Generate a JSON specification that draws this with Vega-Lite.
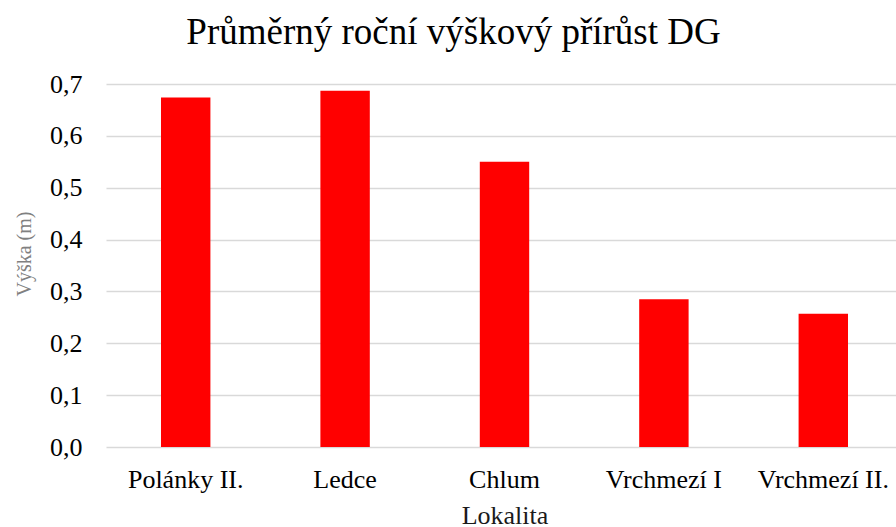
{
  "$schema": "https://vega.github.io/schema/vega-lite/v6.json",
  "autosize": {"type": "none"},
  "padding": {"left": 106, "top": 84, "right": 0, "bottom": 80},
  "width": 797,
  "height": 363,
  "background": "white",
  "title": {
    "text": "Průměrný roční výškový přírůst DG",
    "font": "Liberation Serif",
    "fontSize": 37,
    "fontWeight": "normal",
    "color": "#000000",
    "anchor": "middle",
    "baseline": "alphabetic",
    "offset": -10,
    "dx": -51
  },
  "data": {
    "values": [
      {"Lokalita": "Polánky II.", "Vyska": 0.674},
      {"Lokalita": "Ledce", "Vyska": 0.687},
      {"Lokalita": "Chlum", "Vyska": 0.550},
      {"Lokalita": "Vrchmezí I", "Vyska": 0.285},
      {"Lokalita": "Vrchmezí II.", "Vyska": 0.257}
    ]
  },
  "mark": {"type": "bar", "color": "#ff0000"},
  "encoding": {
    "x": {
      "field": "Lokalita",
      "type": "nominal",
      "sort": null,
      "scale": {"paddingInner": 0.69, "paddingOuter": 0.345},
      "axis": {
        "title": "Lokalita",
        "labelAngle": 0,
        "labelFont": "Liberation Serif",
        "labelFontSize": 26,
        "labelColor": "#000000",
        "labelBaseline": "alphabetic",
        "labelPadding": 40,
        "ticks": false,
        "domain": false,
        "grid": false,
        "titleFont": "Liberation Serif",
        "titleFontSize": 26,
        "titleFontWeight": "normal",
        "titleColor": "#1a1a1a",
        "titleBaseline": "alphabetic",
        "titleY": 76
      }
    },
    "y": {
      "field": "Vyska",
      "type": "quantitative",
      "scale": {"domain": [0, 0.7], "nice": false},
      "axis": {
        "title": "Výška (m)",
        "values": [0, 0.1, 0.2, 0.3, 0.4, 0.5, 0.6, 0.7],
        "labelExpr": "replace(format(datum.value, '.1f'), '.', ',')",
        "labelFont": "Liberation Serif",
        "labelFontSize": 26,
        "labelColor": "#000000",
        "labelPadding": 24,
        "ticks": false,
        "domain": false,
        "grid": true,
        "gridColor": "#d9d9d9",
        "gridWidth": 1.5,
        "titleFont": "Liberation Serif",
        "titleFontSize": 20,
        "titleFontWeight": "normal",
        "titleColor": "#808080",
        "titleBaseline": "alphabetic",
        "titleAlign": "center",
        "titleX": -76,
        "titleY": 169.5
      }
    }
  },
  "config": {"view": {"stroke": null}}
}
